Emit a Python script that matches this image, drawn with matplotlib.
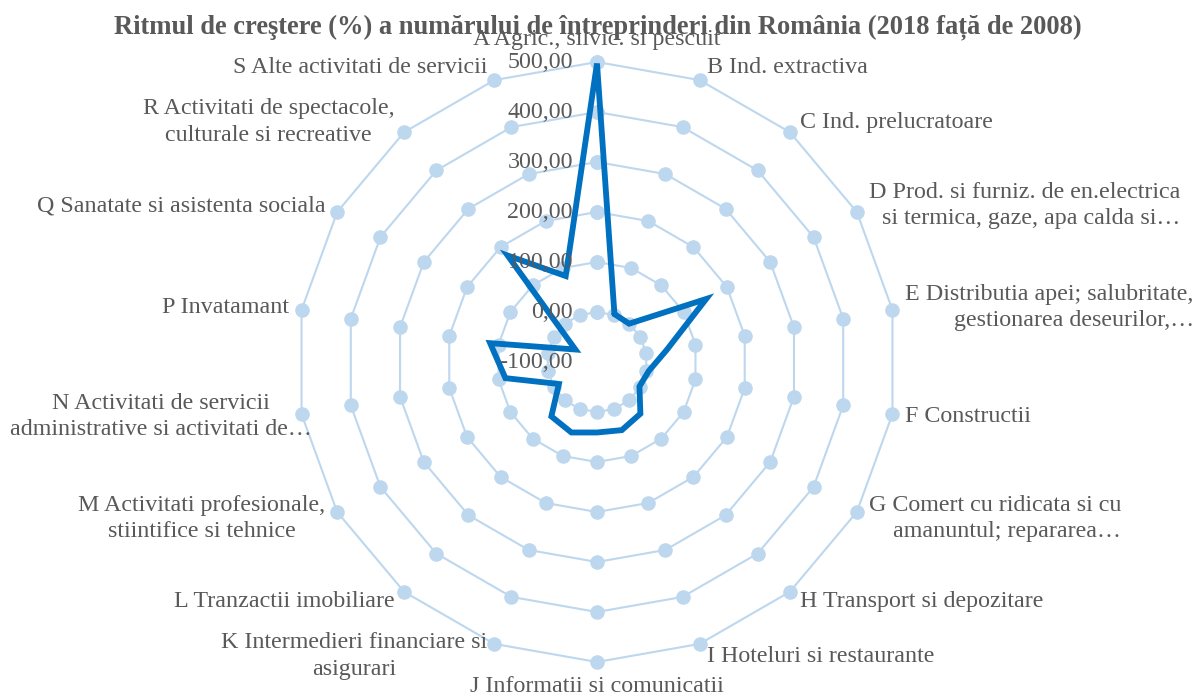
import numpy as np
import matplotlib.pyplot as plt

plt.rcParams["font.family"] = ["Liberation Serif", "DejaVu Serif"]

# Growth rate (%) of the number of enterprises, 2018 vs 2008
categories = [
    "A Agric., silvic. si pescuit",
    "B Ind. extractiva",
    "C Ind. prelucratoare",
    "D Prod. si furniz. de en.electrica\nsi termica, gaze, apa calda si…",
    "E Distributia apei; salubritate,\ngestionarea deseurilor,…",
    "F Constructii",
    "G Comert cu ridicata si cu\namanuntul; repararea…",
    "H Transport si depozitare",
    "I Hoteluri si restaurante",
    "J Informatii si comunicatii",
    "K Intermedieri financiare si\nasigurari",
    "L Tranzactii imobiliare",
    "M Activitati profesionale,\nstiintifice si tehnice",
    "N Activitati de servicii\nadministrative si activitati de…",
    "P Invatamant",
    "Q Sanatate si asistenta sociala",
    "R Activitati de spectacole,\nculturale si recreative",
    "S Alte activitati de servicii",
]
growth = [497, 2, 0, 152, 42, 5, -2, 35, 45, 41, 50, 42, -12, 86, 117, -50, 178, 83]

ring_levels = [0, 100, 200, 300, 400, 500]
tick_values = [-100, 0, 100, 200, 300, 400, 500]
tick_labels = ["-100,00", "0,00", "100,00", "200,00", "300,00", "400,00", "500,00"]

title = "Ritmul de creştere (%) a numărului de întreprinderi din România (2018 față de 2008)"

text_color = "#595959"
grid_color = "#BDD7EE"
line_color = "#0070C0"
fs = 17.3

fig = plt.figure(figsize=(11.96, 6.99), dpi=100)
ax = fig.add_axes([297 / 1196, 37 / 699, 600 / 1196, 600 / 699], projection="polar")
ax.set_theta_zero_location("N")
ax.set_theta_direction(-1)
ax.set_ylim(-100, 500)
ax.set_axis_off()

n = len(categories)
theta = np.arange(n) * 2 * np.pi / n
theta_closed = np.append(theta, theta[0])

# polygon gridlines with dots at every spoke
for lvl in ring_levels:
    ax.plot(theta_closed, [lvl] * (n + 1), color=grid_color, lw=1.5,
            marker="o", ms=10.5, mec="none", mfc=grid_color, zorder=1,
            clip_on=False)

# data line (start at B so the A tip gets a proper join)
t = np.roll(theta_closed[:-1], -1)
v = np.roll(np.array(growth), -1)
ax.plot(np.append(t, t[0]), np.append(v, v[0]), color=line_color, lw=4.2,
        solid_joinstyle="miter", solid_capstyle="round", zorder=3,
        clip_on=False)

# category labels
for ang, lab in zip(theta, categories):
    s, c = np.sin(ang), np.cos(ang)
    if abs(s) < 1e-6:
        ha = "center"
        dx, dy = 0, (22 if c > 0 else -25)
        ma = "center"
    else:
        sign = 1 if s > 0 else -1
        ha = "left" if s > 0 else "right"
        ma = "right" if s > 0 else "center"
        dx, dy = sign * (4 + 9 * abs(s)), 13 * c
    if lab.startswith("N "):
        dx = 10  # the long truncated label runs past its spoke
    ax.annotate(lab, xy=(ang, 500), xytext=(dx, dy), textcoords="offset pixels",
                ha=ha, va="center", multialignment=ma, fontsize=fs,
                color=text_color, zorder=5, annotation_clip=False,
                linespacing=1.35)

# radial axis labels
for val, lab in zip(tick_values, tick_labels):
    ax.annotate(lab, xy=(0, val), xytext=(-24, 0), textcoords="offset pixels",
                ha="right", va="center", fontsize=fs, color=text_color, zorder=5,
                annotation_clip=False)

fig.text(598 / 1196, 1 - 27 / 699, title, ha="center", va="center",
         fontsize=19.1, fontweight="bold", color=text_color)

fig.savefig("out.png", dpi=100)
